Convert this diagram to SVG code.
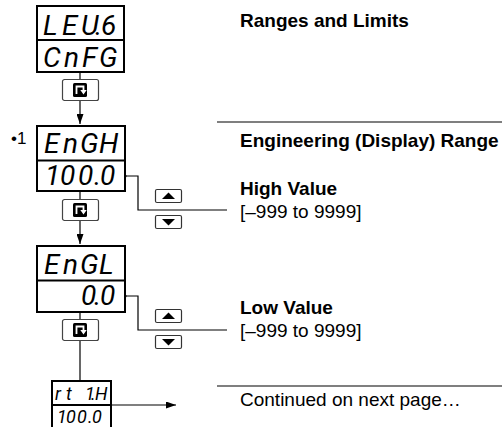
<svg xmlns="http://www.w3.org/2000/svg" width="502" height="427" viewBox="0 0 502 427">
<style>
.seg{font-family:Roboto,"Liberation Sans",sans-serif;font-style:italic;font-weight:400;font-size:28px;fill:#000}
.segs{font-family:Roboto,"Liberation Sans",sans-serif;font-style:italic;font-weight:400;font-size:18px;fill:#000}
.box{fill:#fff;stroke:#000;stroke-width:2}
.ln{fill:none;stroke:#000;stroke-width:1.2}
.rule{stroke:#555;stroke-width:1.5}
.h{font-family:"Liberation Sans",Arial,sans-serif;font-weight:bold;font-size:19px;fill:#000}
.t{font-family:"Liberation Sans",Arial,sans-serif;font-size:19px;fill:#000}
</style>
<defs>
<marker id="ah" markerWidth="10" markerHeight="7" refX="10" refY="3.5" orient="auto" markerUnits="userSpaceOnUse">
<path d="M0,0 L10,3.5 L0,7 z" fill="#000"/>
</marker>
<symbol id="key" viewBox="0 0 37 22" width="37" height="22" overflow="visible">
<rect x="0.5" y="0.5" width="36" height="21" rx="2" fill="#fff" stroke="#444" stroke-width="1.2"/>
<rect x="11" y="4" width="14" height="14" rx="1.5" fill="#000"/>
<path d="M14.5 15 V7.5 H21.5 V11.5" fill="none" stroke="#fff" stroke-width="1.8"/>
<polygon points="18.3,11 24.7,11 21.5,15.5" fill="#fff"/>
</symbol>
<symbol id="up" viewBox="0 0 27 14" width="27" height="14" overflow="visible">
<rect x="0.5" y="0.5" width="26" height="13" rx="1.5" fill="#fff" stroke="#333" stroke-width="1.2"/>
<polygon points="7,10 20,10 13.5,3.5" fill="#000"/>
</symbol>
<symbol id="down" viewBox="0 0 27 14" width="27" height="14" overflow="visible">
<rect x="0.5" y="0.5" width="26" height="13" rx="1.5" fill="#fff" stroke="#333" stroke-width="1.2"/>
<polygon points="7,4 20,4 13.5,10.5" fill="#000"/>
</symbol>
</defs>
<rect width="502" height="427" fill="#fff"/>

<g id="connectors">
<line class="ln" x1="80" y1="72" x2="80" y2="79"/>
<line class="ln" x1="80" y1="101" x2="80" y2="124" marker-end="url(#ah)"/>
<line class="ln" x1="80" y1="191" x2="80" y2="199"/>
<line class="ln" x1="80" y1="221" x2="80" y2="244" marker-end="url(#ah)"/>
<line class="ln" x1="80" y1="312" x2="80" y2="319"/>
<line class="ln" x1="80" y1="341" x2="80" y2="381"/>
<line class="ln" x1="111" y1="405" x2="176" y2="405" marker-end="url(#ah)"/>
<circle cx="125" cy="176" r="1.6" fill="#000"/>
<polyline class="ln" points="125,176 138,176 138,210 227,210"/>
<circle cx="125" cy="296" r="1.6" fill="#000"/>
<polyline class="ln" points="125,296 138,296 138,330 227,330"/>
<line class="rule" x1="217" y1="122" x2="502" y2="122"/>
<line class="rule" x1="217" y1="386" x2="502" y2="386"/>
</g>

<g id="node-lev6">
<rect class="box" x="37" y="6" width="87" height="66"/>
<line x1="37" y1="40" x2="124" y2="40" stroke="#000" stroke-width="2"/>
<text class="seg" x="43 62 81 95 101" y="35">LEU.6</text>
<text class="seg" x="43 64 82 99" y="67">CnFG</text>
</g>
<g id="key1"><use href="#key" x="62" y="79"/></g>

<g id="node-engh">
<text class="t" x="11" y="144" style="font-size:17px">•1</text>
<rect class="box" x="37" y="126" width="88" height="65"/>
<line x1="37" y1="160.5" x2="125" y2="160.5" stroke="#000" stroke-width="2"/>
<text class="seg" x="44 63 80 99" y="153">EnGH</text>
<text class="seg" x="45 60 78 94 100" y="185">100.0</text>
</g>
<g id="key2"><use href="#key" x="62" y="199"/></g>
<g id="updown1"><use href="#up" x="155" y="189"/><use href="#down" x="155" y="215"/></g>

<g id="node-engl">
<rect class="box" x="37" y="246" width="88" height="66"/>
<line x1="37" y1="280.5" x2="125" y2="280.5" stroke="#000" stroke-width="2"/>
<text class="seg" x="44 63 80 99" y="274">EnGL</text>
<text class="seg" x="81 94 100" y="305">0.0</text>
</g>
<g id="key3"><use href="#key" x="62" y="319"/></g>
<g id="updown2"><use href="#up" x="155" y="309"/><use href="#down" x="155" y="335"/></g>

<g id="node-rt1h">
<rect class="box" x="52" y="381" width="59" height="50"/>
<line x1="52" y1="405" x2="111" y2="405" stroke="#000" stroke-width="2"/>
<text class="segs" x="55 66 76 85 91 95" y="400">rt 1.H</text>
<text class="segs" x="57 66 77 88 92" y="423">100.0</text>
</g>

<g id="labels">
<text class="h" x="240" y="27">Ranges and Limits</text>
<text class="h" x="240" y="147">Engineering (Display) Range</text>
<text class="h" x="240" y="195">High Value</text>
<text class="t" x="240" y="218">[–999 to 9999]</text>
<text class="h" x="240" y="314">Low Value</text>
<text class="t" x="240" y="337">[–999 to 9999]</text>
<text class="t" x="240" y="406">Continued on next page…</text>
</g>
</svg>
